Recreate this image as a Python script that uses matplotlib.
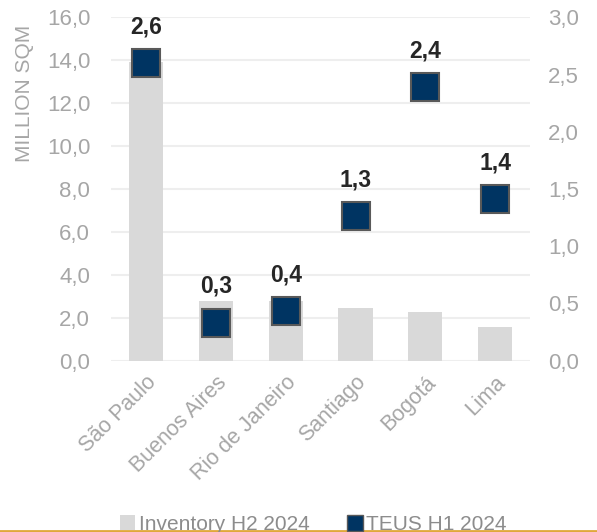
import matplotlib
matplotlib.use("Agg")
import matplotlib.pyplot as plt
from matplotlib.lines import Line2D
from matplotlib.patches import Patch

plt.rcParams['font.family'] = ['Liberation Sans', 'DejaVu Sans']

cities = ["São Paulo", "Buenos Aires", "Rio de Janeiro", "Santiago", "Bogotá", "Lima"]
inventory = [13.9, 2.8, 2.8, 2.45, 2.25, 1.58]
teus = [2.6, 0.33, 0.43, 1.26, 2.39, 1.41]
teus_labels = ["2,6", "0,3", "0,4", "1,3", "2,4", "1,4"]
left_ticks = [0, 2, 4, 6, 8, 10, 12, 14, 16]
right_ticks = [0, 0.5, 1.0, 1.5, 2.0, 2.5, 3.0]

tick_color = "#a6a6a6"
bar_color = "#d9d9d9"
marker_color = "#003462"

fig = plt.figure(figsize=(5.97, 5.32), dpi=100)
ax = fig.add_axes([0.186, 0.322, 0.702, 0.6455])
x = list(range(len(cities)))
ax.bar(x, inventory, width=0.49, color=bar_color, zorder=2)
ax.set_xlim(-0.5, len(cities) - 0.5)
ax.set_ylim(0, 16)
ax.set_yticks(left_ticks)
ax.set_yticklabels([f"{v:.1f}".replace(".", ",") for v in left_ticks])
ax.yaxis.grid(True, color="#eeeeee", linewidth=1.5, zorder=0)
ax.set_axisbelow(True)
for s in ax.spines.values():
    s.set_visible(False)
ax.tick_params(axis='both', length=0, colors=tick_color, labelsize=16, pad=15)
ax.tick_params(axis='x', pad=8)
ax.set_xticks(x)
ax.set_xticklabels(cities, rotation=45, ha='right', rotation_mode='anchor', fontsize=15.5)
ax.set_ylabel("MILLION SQM", color=tick_color, fontsize=15)
ax.yaxis.set_label_coords(-0.185, 0.777)

ax2 = ax.twinx()
ax2.set_ylim(0, 3.0)
ax2.set_yticks(right_ticks)
ax2.set_yticklabels([f"{v:.1f}".replace(".", ",") for v in right_ticks])
for s in ax2.spines.values():
    s.set_visible(False)
ax2.tick_params(axis='y', length=0, colors=tick_color, labelsize=16, pad=13)
ax2.plot(x, teus, linestyle='none', marker='s', markersize=20,
         markerfacecolor=marker_color, markeredgecolor="#595959", markeredgewidth=1.5, zorder=3)
for xi, v, lab in zip(x, teus, teus_labels):
    ax2.annotate(lab, (xi, v), xytext=(0, 18), textcoords='offset points',
                 ha='center', va='bottom', fontsize=16.5, fontweight='bold', color="#262626")
ax2.set_ylabel("MILLION TEUS", color=tick_color, fontsize=15, rotation=90)
ax2.yaxis.set_label_coords(1.2, 0.777)

handles = [Patch(facecolor=bar_color, edgecolor='none', label="Inventory H2 2024"),
           Line2D([], [], linestyle='none', marker='s', markersize=11,
                  markerfacecolor=marker_color, markeredgecolor="#595959", label="TEUS H1 2024")]
leg = fig.legend(handles=handles, loc='center', bbox_to_anchor=(0.525, 0.014), ncol=2,
                 frameon=False, fontsize=15, handlelength=0.7, handleheight=0.7,
                 handletextpad=0.2, columnspacing=1.8, labelcolor="#8c8c8c")

fig.add_artist(Line2D([0, 1], [0.002, 0.002], transform=fig.transFigure, color="#e0a83a", linewidth=2))

fig.savefig("out.png", dpi=100)
